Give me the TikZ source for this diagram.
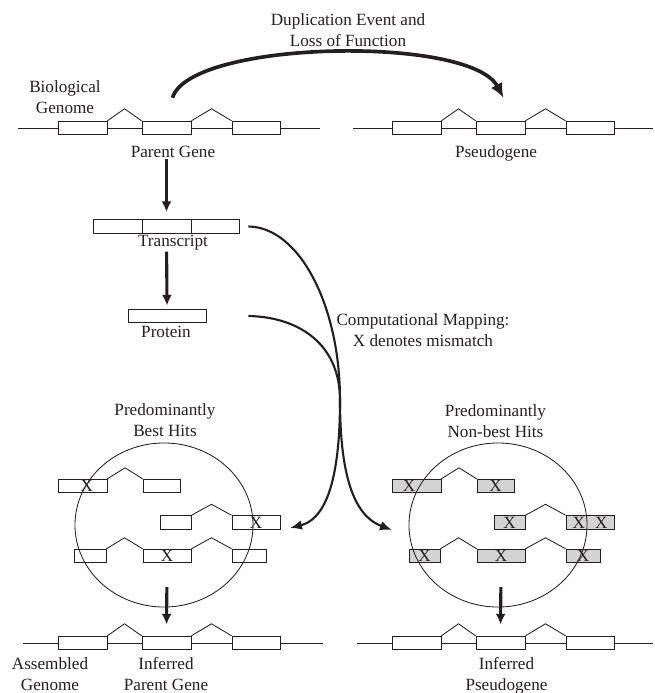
\documentclass[tikz,border=0pt]{standalone}
\usepackage{fontspec}
\setmainfont{Liberation Serif}
\usetikzlibrary{arrows.meta,calc,shapes.geometric}
\definecolor{Ink}{HTML}{231F20}
\definecolor{HitGray}{HTML}{D3D3D3}
\begin{document}
\begin{tikzpicture}[x=0.025cm,y=-0.025cm,font=\fontsize{12.2}{14.9}\selectfont,text=Ink,exon/.style={draw=Ink,fill=white,line width=0.6pt,minimum height=0.34cm,inner sep=0pt},nbexon/.style={exon,fill=HitGray},genome/.style={draw=Ink,line width=0.6pt},hitzone/.style={draw=Ink,ellipse,line width=0.6pt,minimum width=4.45cm,minimum height=4.1cm,inner sep=0pt},flow/.style={draw=Ink,line width=2.2pt,-{Latex[length=0.27cm,width=0.25cm]}},mapflow/.style={draw=Ink,line width=1.5pt,-{Latex[length=0.3cm,width=0.24cm]}},dupflow/.style={draw=Ink,line width=2.6pt,-{Latex[length=0.36cm,width=0.32cm]}}]
\useasboundingbox (0,0) rectangle (654,693);
\foreach \g/\dx/\y/\xa/\xb in {pg/0/128/18/320,ps/334/128/353/653,ip/0/643/23/323,ig/334/643/357/653}{
\draw[genome] (\xa,\y) -- (\xb,\y);
\node[exon,minimum width=1.225cm] (\g1) at (82.5+\dx,\y){};
\node[exon,minimum width=1.225cm] (\g2) at (166.5+\dx,\y){};
\node[exon,minimum width=1.2cm] (\g3) at (256+\dx,\y){};
\draw[genome] (\g1.north east) -- ($(\g1.north east)!.5!(\g2.north west)+(0,-12)$) -- (\g2.north west);
\draw[genome] (\g2.north east) -- ($(\g2.north east)!.5!(\g3.north west)+(0,-12)$) -- (\g3.north west);
}
\node[align=center] (biolab) at (65,97.5){Biological\\Genome};
\node (pglab) at (173,152){Parent Gene};
\node (pslab) at (496,153){Pseudogene};
\node[align=center] (duplab) at (348,30){Duplication Event and\\Loss of Function};
\draw[dupflow] ($(pg2.north)+(6,-23)$) .. controls (190,40) and (470,35) .. ($(ps2.north)+(3,-23)$);
\node[exon,minimum width=1.225cm] (t1) at (117.5,226.5){};
\node[exon,minimum width=1.225cm] (t2) at (166.5,226.5){};
\node[exon,minimum width=1.2cm] (t3) at (215,226.5){};
\node (tlab) at (173,243){Transcript};
\node[exon,minimum width=1.95cm] (prot) at (167,316){};
\node (protlab) at (166,332){Protein};
\draw[flow,shorten <=0.6cm,shorten >=0.18cm] (pg2.south) -- (t2.north);
\draw[flow,shorten <=0.45cm,shorten >=0.08cm] (t2.south) -- (prot.north);
\node[align=center] (maplab) at (423,330.5){Computational Mapping:\\X denotes mismatch};
\foreach \n/\x/\y/\w/\t in {ba/82.5/486/49/{\hspace*{0.22cm}X},bb/161.5/486/37/{},bc/175.5/522.5/31/{},bd/256/522.5/48/{X},be/90/556/32/{},bf/167/556/48/{X},bg/249/556/34/{}}{\node[exon,minimum width=\w*0.025cm] (\n) at (\x,\y){\t};}
\foreach \n/\x/\y/\w/\t in {na/416.5/486/49/{X\hspace*{0.375cm}},nb/495.5/486/37/{X},nc/509.5/522.5/31/{X},nd/590/522.5/48/{X\hskip0.25cm X},ne/424.5/556/31/{X},nf/501/556/48/{X},ng/583/556/34/{X}}{\node[nbexon,minimum width=\w*0.025cm] (\n) at (\x,\y){\t};}
\foreach \a/\b in {ba/bb,bc/bd,be/bf,bf/bg,na/nb,nc/nd,ne/nf,nf/ng}{\draw[genome] (\a.north east) -- ($(\a.north east)!.5!(\b.north west)+(0,-11)$) -- (\b.north west);}
\node[hitzone] (best) at (164,525){};
\node[hitzone] (nonbest) at (498,525){};
\node[align=center] (bestlab) at (165,420.5){Predominantly\\Best Hits};
\node[align=center] (nonbestlab) at (495.5,421){Predominantly\\Non-best Hits};
\coordinate (bestTip) at (290,528);
\coordinate (nonbestTip) at (392,530);
\draw[mapflow] (t3.east) ++(9,0) .. controls (299,227) and (340,305) .. (340,400) .. controls (340,490) and (360,518) .. (nonbestTip);
\draw[mapflow] (prot.east -| t3.east) ++(9,0) .. controls (300,317) and (340,345) .. (340,400) .. controls (340,490) and (322,520) .. (bestTip);
\draw[flow,shorten <=0.6cm,shorten >=0.28cm] (bf.south) -- (ip2.north);
\draw[flow,shorten <=0.6cm,shorten >=0.28cm] (nf.south) -- (ig2.north);
\node[align=center] (asmlab) at (50,674.5){Assembled\\Genome};
\node[align=center] (iplab) at (166,674.5){Inferred\\Parent Gene};
\node[align=center] (iglab) at (506.5,676){Inferred\\Pseudogene};
\end{tikzpicture}
\end{document}
